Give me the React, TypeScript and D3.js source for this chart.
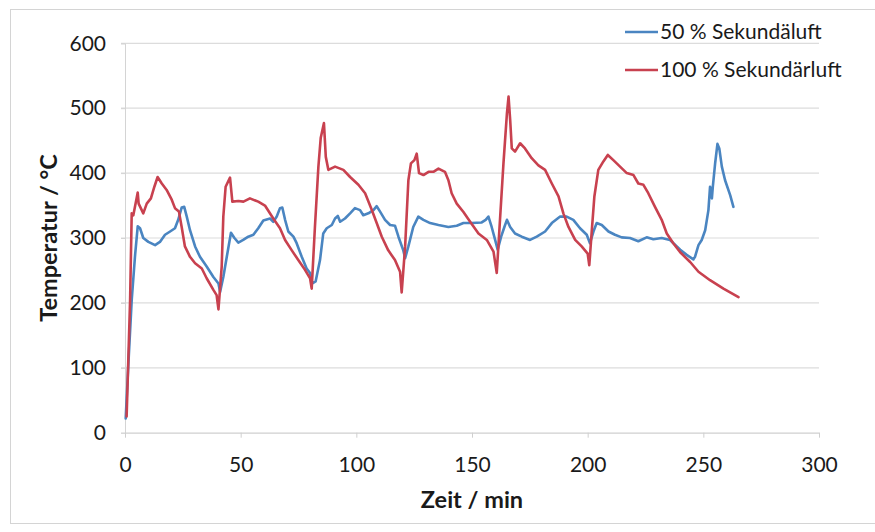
import React, { useEffect, useRef } from "react";
import * as d3 from "d3";

// [Zeit in min, Temperatur in °C]
const sek50: [number, number][] = [
  [0.3, 22], [1.4, 102], [2.9, 204], [4.3, 271], [5.5, 318], [6.5, 315], [7.9, 300], [10.1, 294],
  [13, 289], [15.1, 294], [17.3, 305], [19.5, 310], [21.6, 315], [23, 328], [24.5, 347], [25.6, 348],
  [26.7, 333], [28.1, 312], [30.3, 287], [32.4, 271], [35.3, 256], [38.2, 240], [40.4, 230], [41.1, 217],
  [42.5, 240], [44, 271], [45.8, 308], [47.3, 300], [49, 293], [51.1, 297], [53.3, 302], [55.5, 305],
  [57.6, 315], [59.8, 327], [62.7, 330], [64.1, 325], [65.6, 333], [67, 346], [68, 347], [69.2, 328],
  [70.6, 310], [72.8, 302], [74.2, 292], [76.4, 271], [78.5, 253], [80, 246], [81, 230], [82.4, 233],
  [84.3, 266], [85.7, 307], [87.2, 315], [89.4, 320], [90.8, 330], [92, 334], [93, 325], [95.1, 330],
  [97.3, 338], [99.4, 346], [101.6, 343], [103, 335], [105.2, 338], [107.4, 343], [108.8, 349], [110.2, 341],
  [112.4, 328], [114.6, 320], [116.7, 319], [118.2, 302], [120.3, 281], [121.1, 269], [122.5, 287], [124.6, 317],
  [126.8, 333], [129, 328], [131.9, 323], [135.5, 320], [139.8, 317], [143.4, 319], [146.3, 323], [149.9, 323],
  [154.2, 324], [155.9, 328], [157.1, 333], [158.5, 317], [160, 297], [161.1, 282], [162.6, 302], [164, 317],
  [165.1, 328], [166.5, 317], [168.6, 307], [171.5, 302], [175.1, 297], [178, 302], [181.6, 310], [184.5, 323],
  [188.1, 333], [190.9, 333], [193.8, 328], [196.7, 315], [199.6, 305], [201, 292], [202.5, 310], [203.9, 323],
  [206.1, 320], [209, 310], [211.8, 305], [214.7, 301], [218.3, 300], [221.9, 295], [225.5, 301], [228.4, 298],
  [232, 300], [235.6, 297], [240, 282], [242.8, 274], [245.7, 267], [246.4, 271], [247.9, 289], [249.3, 297],
  [250.8, 312], [252.2, 343], [252.9, 379], [253.7, 361], [254.1, 379], [255.1, 415], [256.1, 445], [256.9, 438],
  [258, 410], [259.4, 389], [261.6, 366], [263, 348],
];

const sek100: [number, number][] = [
  [0.7, 25], [2.2, 204], [2.9, 338], [3.6, 335], [5.5, 370], [5.9, 353], [7.9, 338], [9.4, 353],
  [11.2, 361], [12.7, 379], [14.1, 394], [15.9, 384], [18, 374], [20.2, 359], [21.6, 346], [23.3, 341],
  [24.5, 317], [25.9, 287], [28.1, 271], [30.3, 261], [33.2, 253], [35.3, 238], [38.2, 220], [39.6, 212],
  [40.4, 190], [40.8, 209], [41.8, 256], [42.5, 333], [43.5, 379], [45.4, 393], [46.4, 356], [49, 357],
  [51.2, 356], [54, 361], [57.6, 356], [60.5, 350], [64.1, 330], [67, 315], [69.2, 297], [72.1, 281],
  [74.9, 266], [77.8, 251], [80, 238], [80.7, 222], [82.1, 317], [83.6, 410], [84.6, 454], [86, 477],
  [86.8, 425], [87.9, 405], [90.8, 410], [94.4, 405], [97.3, 394], [100.9, 382], [103.8, 369], [106.7, 343],
  [108.8, 323], [111, 302], [113.8, 281], [116.7, 266], [118.9, 248], [119.6, 216], [121.1, 287], [122.5, 389],
  [123.6, 415], [125.1, 420], [126.1, 430], [127.1, 400], [129, 397], [131.2, 402], [133.3, 402], [135.5, 407],
  [138.3, 402], [139.8, 389], [141.2, 369], [143.4, 353], [146.3, 340], [149.2, 325], [152.8, 307], [156.4, 297],
  [159.3, 279], [160.7, 246], [162.1, 328], [163.6, 415], [165.1, 492], [165.8, 518], [166.5, 482], [167.2, 438],
  [168.6, 433], [170.8, 446], [172.9, 438], [175.8, 423], [178.7, 412], [181.6, 405], [184.5, 384], [187.4, 364],
  [189.5, 338], [191.7, 317], [194.6, 297], [197.4, 287], [200, 276], [200.7, 258], [201.8, 312], [202.9, 364],
  [204.6, 405], [206.8, 418], [208.7, 428], [211.1, 420], [214, 410], [216.9, 400], [219.8, 397], [221.9, 384],
  [224.1, 382], [226.2, 369], [229.1, 348], [232, 328], [234.2, 307], [237, 292], [240, 278], [244.3, 263],
  [247.9, 248], [252.9, 235], [258.7, 222], [265.2, 209],
];

const xTicks = [0, 50, 100, 150, 200, 250, 300];
const yTicks = [0, 100, 200, 300, 400, 500, 600];
const legendLabels = ["50 % Sekundäluft", "100 % Sekundärluft"];
const colors = ["#4a85c1", "#c8414f"];

const font = "Lato, 'Open Sans', sans-serif";

const App = () => {
  const ref = useRef<SVGSVGElement>(null);

  useEffect(() => {
    const width = 875;
    const height = 532;
    const marginLeft = 125;
    const marginRight = 56;
    const marginTop = 43.3;
    const marginBottom = 99.3;

    const svg = d3.select(ref.current);
    svg.selectAll("*").remove();

    // scan frame
    svg
      .append("rect")
      .attr("x", 10.5)
      .attr("y", 9.5)
      .attr("width", 880)
      .attr("height", 514)
      .attr("fill", "none")
      .attr("stroke", "#d4d4d4");

    const x = d3.scaleLinear().domain([0, 300]).range([marginLeft, width - marginRight]);
    const y = d3.scaleLinear().domain([0, 600]).range([height - marginBottom, marginTop]);

    // grid
    svg
      .append("g")
      .selectAll("line")
      .data(yTicks.filter((d) => d > 0))
      .join("line")
      .attr("x1", marginLeft - 4)
      .attr("x2", x(300))
      .attr("y1", (d) => y(d))
      .attr("y2", (d) => y(d))
      .attr("stroke", "#dcdcdc")
      .attr("stroke-width", 1.2);

    // y axis
    svg
      .append("g")
      .attr("transform", `translate(${marginLeft},0)`)
      .call(d3.axisLeft(y).tickValues(yTicks).tickSize(4).tickPadding(15))
      .call((g) => g.select(".domain").attr("stroke", "#d4d4d4"))
      .call((g) => g.selectAll(".tick line").attr("stroke", "#d4d4d4"))
      .call((g) =>
        g
          .selectAll("text")
          .attr("font-family", font)
          .attr("font-size", 21)
          .attr("fill", "#1a1a1a")
      );

    // x axis
    svg
      .append("g")
      .attr("transform", `translate(0,${height - marginBottom})`)
      .call(d3.axisBottom(x).tickValues(xTicks).tickSize(5).tickPadding(19).tickSizeOuter(0))
      .call((g) => g.select(".domain").attr("stroke", "#cfcfcf").attr("stroke-width", 1.2))
      .call((g) => g.selectAll(".tick line").attr("stroke", "#cfcfcf"))
      .call((g) =>
        g
          .selectAll("text")
          .attr("font-family", font)
          .attr("font-size", 21)
          .attr("fill", "#1a1a1a")
      );

    // axis titles
    svg
      .append("text")
      .attr("x", (x(0) + x(300)) / 2)
      .attr("y", 508)
      .attr("text-anchor", "middle")
      .attr("font-family", font)
      .attr("font-weight", "bold")
      .attr("font-size", 23.5)
      .attr("fill", "#1a1a1a")
      .text("Zeit / min");

    svg
      .append("text")
      .attr("transform", `translate(57,${(y(0) + y(600)) / 2}) rotate(-90)`)
      .attr("text-anchor", "middle")
      .attr("font-family", font)
      .attr("font-weight", "bold")
      .attr("font-size", 23.5)
      .attr("fill", "#1a1a1a")
      .text("Temperatur / °C");

    const line = d3
      .line<[number, number]>()
      .x((d) => x(d[0]))
      .y((d) => y(d[1]));

    [sek50, sek100].forEach((series, i) => {
      svg
        .append("path")
        .datum(series)
        .attr("d", line)
        .attr("fill", "none")
        .attr("stroke", colors[i])
        .attr("stroke-width", 2.6)
        .attr("stroke-linejoin", "round")
        .attr("stroke-linecap", "round");
    });

    // legend
    const legend = svg
      .append("g")
      .selectAll("g")
      .data(legendLabels)
      .join("g")
      .attr("transform", (_, i) => `translate(625,${32 + i * 38})`);

    legend
      .append("line")
      .attr("x1", 0)
      .attr("x2", 33)
      .attr("stroke", (_, i) => colors[i])
      .attr("stroke-width", 2.6);

    legend
      .append("text")
      .attr("x", 35)
      .attr("dy", "0.35em")
      .attr("font-family", font)
      .attr("font-size", 21)
      .attr("fill", "#1a1a1a")
      .text((d) => d);
  }, []);

  return (
    <svg
      ref={ref}
      width={875}
      height={532}
      style={{ position: "absolute", left: 0, top: 0, background: "#fff" }}
    />
  );
};

export default App;
